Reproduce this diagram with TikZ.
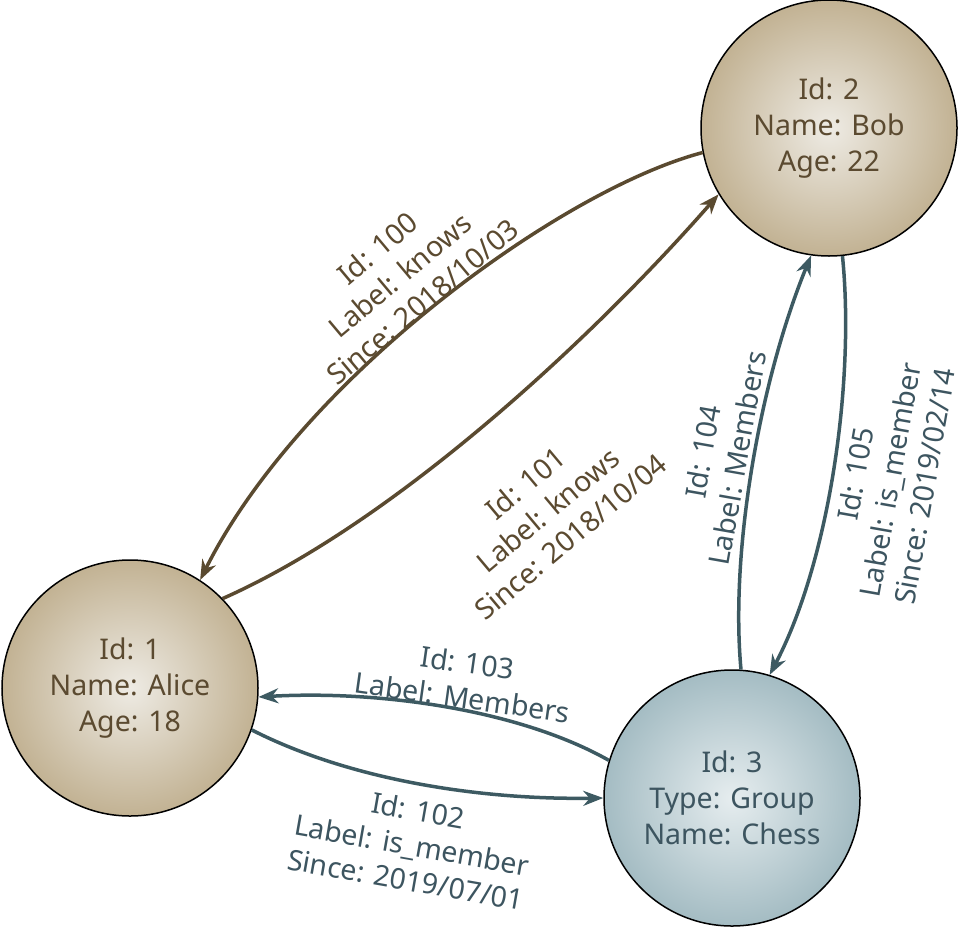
\documentclass[tikz,border=0pt]{standalone}
\usepackage{fontspec}
\setmainfont{Noto Sans}
\usetikzlibrary{arrows.meta}
\definecolor{brtxt}{HTML}{5B4A30}
\definecolor{bltxt}{HTML}{3D5560}
\definecolor{bredge}{HTML}{5A4A30}
\definecolor{bledge}{HTML}{3D5A62}
\definecolor{brin}{HTML}{EEEBE4}
\definecolor{brout}{HTML}{C2B293}
\definecolor{blin}{HTML}{E6EDEF}
\definecolor{blout}{HTML}{A4BCC3}
\begin{document}
\begin{tikzpicture}[x=1pt,y=-1pt,
  vtx/.style={circle,draw=black,line width=1.5pt,minimum size=256pt,inner sep=0pt,align=center,font=\fontsize{28.5}{36}\selectfont},
  person/.style={vtx,shading=radial,inner color=brin,outer color=brout,text=brtxt},
  grp/.style={vtx,shading=radial,inner color=blin,outer color=blout,text=bltxt},
  bre/.style={line width=3.5pt,draw=bredge,-{Stealth[length=20pt,width=15pt]}},
  ble/.style={line width=3.5pt,draw=bledge,-{Stealth[length=20pt,width=15pt]}},
  lab/.style={align=center,font=\fontsize{28.5}{35}\selectfont}]
\useasboundingbox (0,0) rectangle (960,929);
\node[person] (bob) at (829,128) {Id: 2\\Name: Bob\\Age: 22};
\node[person] (alice) at (130,688) {Id: 1\\Name: Alice\\Age: 18};
\node[grp] (chess) at (732,798) {Id: 3\\Type: Group\\Name: Chess};

\draw[bre] (bob.191) .. controls (560,190) and (300,380) .. (alice.57);
\draw[bre] (alice.44) .. controls (400,520) and (600,330) .. (bob.211);
\draw[ble] (chess.86) .. controls (730,550) and (760,380) .. (bob.262);
\draw[ble] (bob.276) .. controls (855,380) and (830,560) .. (chess.73);
\draw[ble] (chess.163) .. controls (520,710) and (380,690) .. (alice.-4);
\draw[ble] (alice.-19) .. controls (350,780) and (480,800) .. (chess.180);

\node[lab,text=brtxt,rotate=40] (l100) at (400,275) {Id: 100\\Label: knows\\Since: 2018/10/03};
\node[lab,text=brtxt,rotate=40] (l101) at (548,510) {Id: 101\\Label: knows\\Since: 2018/10/04};
\node[lab,text=bltxt,rotate=80] (l104) at (720,455) {Id: 104\\Label: Members};
\node[lab,text=bltxt,rotate=80] (l105) at (890,480) {Id: 105\\Label: is\_member\\Since: 2019/02/14};
\node[lab,text=bltxt,rotate=-8] (l103) at (465,680) {Id: 103\\Label: Members};
\node[lab,text=bltxt,rotate=-10] (l102) at (412,845) {Id: 102\\Label: is\_member\\Since: 2019/07/01};
\end{tikzpicture}
\end{document}
